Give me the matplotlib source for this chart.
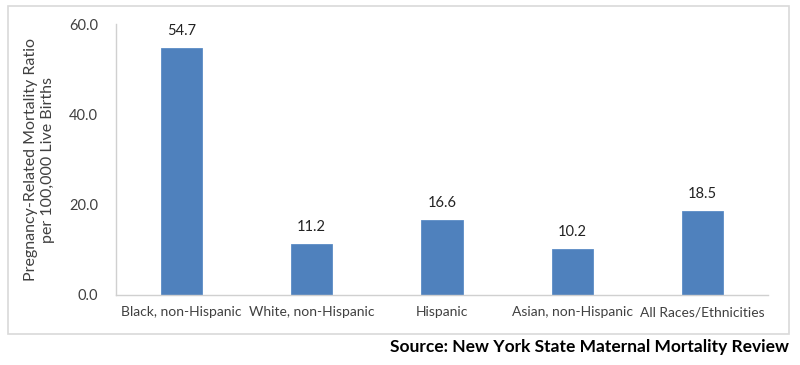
import matplotlib
matplotlib.use("Agg")
from matplotlib import pyplot as plt
from matplotlib.patches import Rectangle

# data
groups = ["Black, non-Hispanic", "White, non-Hispanic", "Hispanic",
          "Asian, non-Hispanic", "All Races/Ethnicities"]
ratios = [54.7, 11.2, 16.6, 10.2, 18.5]
yticks = [0, 20, 40, 60]

plt.rcParams['font.family'] = ['Lato', 'DejaVu Sans']

fig = plt.figure(figsize=(8, 3.65), dpi=100)
ax = fig.add_axes([0.145, 0.192, 0.815, 0.742])

# grey frame round the chart area
fig.patches.append(Rectangle((0.01, 0.085), 0.976, 0.899, transform=fig.transFigure,
                             fill=False, edgecolor="#d9d9d9", linewidth=1.2))

x = range(len(groups))
ax.bar(x, ratios, width=0.315, color="#4f81bd", edgecolor="#5b8cc6", linewidth=0.6, zorder=2)
for i, v in enumerate(ratios):
    ax.text(i, v + 2.2, "{0:.1f}".format(v), ha="center", va="bottom", fontsize=10.5, color="#222222")

ax.set_xlim(-0.5, len(groups) - 0.5)
ax.set_ylim(0, 60)
ax.set_yticks(yticks)
ax.set_yticklabels(["{0:.1f}".format(t) for t in yticks])
ax.set_xticks(list(x))
ax.set_xticklabels(groups)
ax.tick_params(axis="both", length=0, colors="#404040")
ax.tick_params(axis="y", pad=13, labelsize=10.5)
ax.tick_params(axis="x", pad=8, labelsize=10)

for s in ["top", "right"]:
    ax.spines[s].set_visible(False)
for s in ["left", "bottom"]:
    ax.spines[s].set_color("#d0d0d0")
    ax.spines[s].set_linewidth(1)

ax.set_ylabel("Pregnancy-Related Mortality Ratio\nper 100,000 Live Births",
              fontsize=11.5, color="#404040", labelpad=10, linespacing=1.25)

fig.text(0.986, 0.05, "Source: New York State Maternal Mortality Review",
         ha="right", va="center", fontsize=12.5, fontweight="bold", color="black")

plt.savefig("out.png", dpi=100)
